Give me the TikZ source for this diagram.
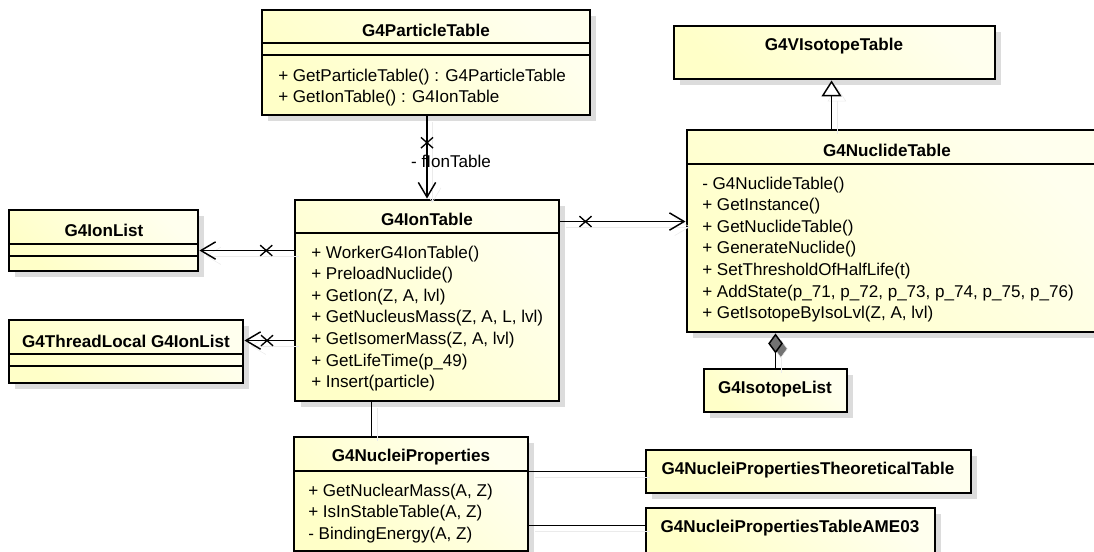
\documentclass[tikz,border=0pt]{standalone}
\usepackage{fontspec}
\setmainfont{Liberation Sans}
\usetikzlibrary{arrows.meta,shapes.misc,fit,shadows,calc}
\tikzset{>={Straight Barb[length=11pt,width=13pt]}}
\definecolor{clsyellow}{RGB}{255,255,200}
\definecolor{shadowgray}{RGB}{220,220,220}
\newcommand{\umlclass}[5]{
	\node[cls, fit={(#2) (#3)}] (#1) {};
	\node[clstitle] (#1-title) at (#4) {#5}
}

\begin{document}
\begin{tikzpicture}[x=0.75pt, y=-0.75pt,
	cls/.style={draw, line width=2.2pt, inner sep=0pt, top color=clsyellow!30!white, bottom color=clsyellow, shading angle=-45,
		drop shadow={shadow xshift=4.5pt, shadow yshift=-4.5pt, fill=shadowgray, opacity=1}},
	clstitle/.style={font=\bfseries\fontsize{12.8}{15}\selectfont, inner sep=0pt},
	members/.style={font=\fontsize{12.8}{16.2}\selectfont, align=left, inner sep=0pt, anchor=north west},
	sepline/.style={line width=1pt},
	connshadow/.style={preaction={draw=black!8, transform canvas={shift={(4pt,-4pt)}}}},
	assoc/.style={line width=1.1pt, connshadow, ->},
	gen/.style={line width=1.1pt, connshadow, -{Triangle[open, length=12pt, width=15pt, fill=white]}},
	aggr/.style={line width=1.1pt, connshadow, -{Diamond[length=15pt, width=11pt, fill=black!55]}},
	link/.style={line width=1.1pt, connshadow},
	xmark/.style={cross out, draw, line width=1pt, minimum width=8pt, minimum height=7pt, inner sep=0pt},
	conlabel/.style={font=\fontsize{12.8}{15}\selectfont, inner sep=0pt}]
	\useasboundingbox (0,0) rectangle (1094,552);

	% classes
	\umlclass{pt}{262,10}{590,115}{426,30}{G4ParticleTable};
	\draw[sepline] (262,43) -- (590,43) (262,55) -- (590,55);
	\node[members] (pt-ops) at (278,68.5) {+ GetParticleTable() : G4ParticleTable\\+ GetIonTable() : G4IonTable};

	\umlclass{vt}{674,26}{995,79}{834,46}{G4VIsotopeTable};

	\umlclass{nt}{687,130}{1100,332}{887,150}{G4NuclideTable};
	\draw[sepline] (687,164) -- (1100,164);
	\node[members] (nt-ops) at (702,176.5) {- G4NuclideTable()\\+ GetInstance()\\+ GetNuclideTable()\\+ GenerateNuclide()\\+ SetThresholdOfHalfLife(t)\\+ AddState(p\_71, p\_72, p\_73, p\_74, p\_75, p\_76)\\+ GetIsotopeByIsoLvl(Z, A, lvl)};

	\umlclass{it}{295,200}{559,401}{427,219}{G4IonTable};
	\draw[sepline] (295,233) -- (559,233);
	\node[members] (it-ops) at (311,245.5) {+ WorkerG4IonTable()\\+ PreloadNuclide()\\+ GetIon(Z, A, lvl)\\+ GetNucleusMass(Z, A, L, lvl)\\+ GetIsomerMass(Z, A, lvl)\\+ GetLifeTime(p\_49)\\+ Insert(particle)};

	\umlclass{il}{9,210}{198,271}{104,230}{G4IonList};
	\draw[sepline] (9,244) -- (198,244) (9,256) -- (198,256);

	\umlclass{tl}{9,320}{243,383}{126,341}{G4ThreadLocal G4IonList};
	\draw[sepline] (9,354) -- (243,354) (9,366) -- (243,366);

	\umlclass{np}{294,437}{528,551}{411,457}{G4NucleiProperties};
	\draw[sepline] (294,471) -- (528,471);
	\node[members] (np-ops) at (308,483.5) {+ GetNuclearMass(A, Z)\\+ IsInStableTable(A, Z)\\- BindingEnergy(A, Z)};

	\umlclass{tt}{646,450}{971,493}{808,470}{G4NucleiPropertiesTheoreticalTable};
	\umlclass{am}{646,508}{935,553}{790,528}{G4NucleiPropertiesTableAME03};
	\umlclass{is}{704,369}{847,412}{775,389}{G4IsotopeList};

	% connectors
	\coordinate (pt-dn) at (pt.south -| it.north);
	\draw[assoc] (pt-dn) -- (it.north) node[xmark, pos=0.32]{} node[conlabel, pos=0.55, xshift=18pt] (ion-lbl) {- fIonTable};

	\coordinate (it-l1) at ($(it.north west)+(0,52)$);
	\draw[assoc] (it-l1) -- (it-l1 -| il.east) node[xmark, pos=0.29]{};
	\coordinate (it-l2) at ($(it.north west)+(0,142)$);
	\draw[assoc] (it-l2) -- (it-l2 -| tl.east) node[xmark, pos=0.54]{};
	\coordinate (it-r1) at ($(it.north east)+(0,23)$);
	\draw[assoc] (it-r1) -- (it-r1 -| nt.west) node[xmark, pos=0.2]{};

	\coordinate (nt-up) at ($(nt.north west)+(146,0)$);
	\draw[gen] (nt-up) -- (nt-up |- vt.south);
	\draw[aggr] (is.north) -- (is.north |- nt.south);

	\coordinate (np-up) at ($(np.north west)+(79,0)$);
	\draw[link] (np-up) -- (np-up |- it.south);
	\coordinate (np-r1) at ($(np.north east)+(0,36)$);
	\draw[link] (np-r1) -- (np-r1 -| tt.west);
	\coordinate (np-r2) at ($(np.north east)+(0,90)$);
	\draw[link] (np-r2) -- (np-r2 -| am.west);
\end{tikzpicture}
\end{document}
